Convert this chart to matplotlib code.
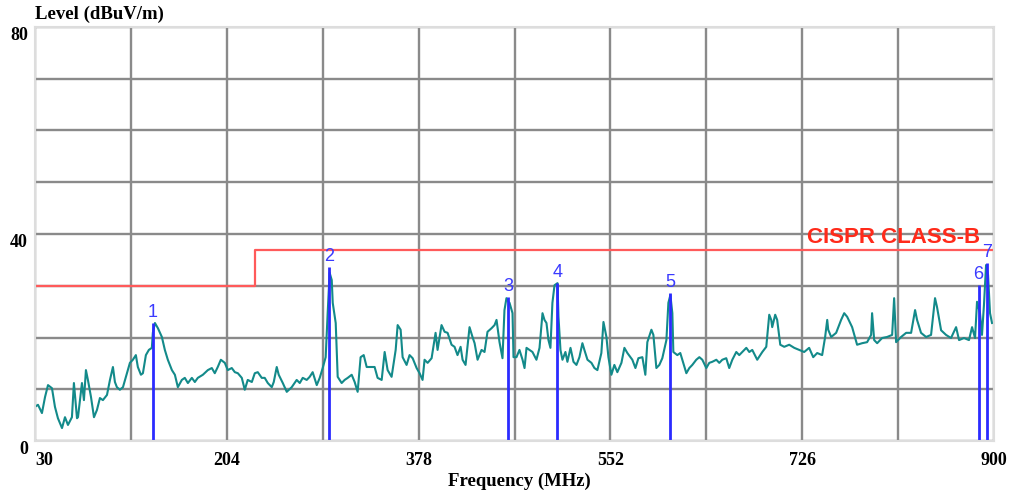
import matplotlib
matplotlib.use("Agg")
import matplotlib.pyplot as plt

# measured trace (MHz, dBuV/m)
freq_mhz = [30.0, 32.7, 36.3, 39.1, 41.8, 45.4, 48.1, 50.8, 54.5, 57.2, 59.9, 63.5, 65.3, 68.1, 69.0,
            72.6, 74.4, 76.2, 78.0, 80.8, 83.5, 86.2, 88.9, 91.6, 95.3, 98.0, 100.7, 102.5, 104.3, 107.0,
            109.8, 113.4, 116.1, 118.8, 121.5, 123.3, 126.1, 127.9, 130.6, 133.3, 136.0, 136.9, 138.8, 141.5,
            145.1, 147.8, 150.5, 154.2, 156.9, 159.6, 163.2, 165.9, 168.7, 172.3, 175.0, 177.7, 182.3, 186.8,
            190.4, 193.1, 195.8, 198.6, 202.2, 204.9, 208.5, 211.3, 214.0, 217.6, 220.3, 223.0, 226.7, 229.4,
            232.1, 235.7, 238.4, 241.2, 244.8, 246.6, 249.3, 251.1, 254.8, 258.4, 262.9, 267.4, 270.2, 272.9,
            276.5, 279.2, 281.9, 285.6, 288.3, 291.0, 293.7, 295.5, 297.3, 299.2, 300.1, 302.8, 304.6, 308.2,
            310.9, 313.7, 317.3, 320.0, 322.7, 325.4, 328.2, 330.9, 333.6, 338.1, 340.8, 344.5, 347.2, 349.9,
            353.5, 357.2, 359.0, 361.7, 363.5, 367.1, 369.8, 372.6, 376.2, 378.9, 381.6, 383.4, 386.2, 389.8,
            393.4, 395.2, 398.8, 401.6, 404.3, 407.9, 410.6, 413.3, 416.1, 417.9, 420.6, 424.2, 426.9, 428.8,
            431.5, 435.1, 437.8, 440.5, 444.2, 446.9, 448.7, 451.4, 454.1, 455.9, 457.7, 459.6, 460.5, 463.2,
            464.1, 466.8, 469.5, 472.3, 474.1, 475.9, 478.6, 481.3, 484.9, 487.7, 490.4, 492.2, 494.0, 495.8,
            497.6, 499.4, 501.3, 504.0, 504.9, 506.7, 508.5, 511.2, 513.0, 515.8, 518.5, 521.2, 523.9, 526.6,
            528.4, 531.2, 534.8, 537.5, 540.2, 543.8, 545.7, 548.4, 550.2, 552.9, 555.6, 558.3, 562.0, 564.7,
            567.4, 571.9, 574.7, 577.4, 581.0, 583.7, 585.5, 589.2, 591.0, 593.7, 596.4, 599.1, 602.8, 604.6,
            606.4, 608.2, 609.1, 612.7, 615.4, 617.2, 620.9, 623.6, 626.3, 629.9, 632.7, 635.4, 639.0, 641.7,
            644.4, 648.1, 650.8, 653.5, 657.1, 659.8, 662.6, 666.2, 668.9, 671.6, 675.3, 678.0, 680.7, 685.2,
            689.8, 693.4, 696.1, 697.9, 698.8, 701.5, 703.3, 706.1, 709.7, 714.2, 718.8, 723.3, 727.8, 732.3,
            736.0, 739.6, 744.1, 746.8, 748.7, 749.6, 752.3, 756.8, 761.3, 764.1, 766.8, 771.3, 775.8, 780.4,
            784.9, 788.5, 789.4, 791.3, 794.0, 798.5, 803.0, 807.6, 809.4, 811.2, 815.7, 820.3, 824.8, 828.4,
            830.2, 833.8, 838.4, 842.9, 846.5, 848.3, 852.0, 856.5, 861.0, 865.6, 868.3, 872.8, 877.3, 880.1,
            882.8, 884.6, 887.3, 889.1, 890.9, 892.8, 894.6, 896.4, 898.2]
level_dbuv = [6.6, 7.0, 5.4, 8.5, 10.8, 10.2, 6.6, 4.4, 2.5, 4.6, 3.1, 4.6, 11.2, 4.4, 4.6,
              11.2, 7.9, 13.7, 11.8, 8.5, 4.6, 6.0, 8.3, 7.9, 8.9, 11.8, 14.3, 11.4, 10.4, 9.9,
              10.4, 13.1, 15.1, 15.7, 16.6, 14.3, 12.8, 13.1, 16.6, 17.6, 18.0, 20.9, 22.8, 21.8,
              20.1, 17.6, 15.7, 13.7, 12.8, 10.4, 11.8, 12.2, 11.2, 12.2, 11.4, 12.2, 12.8, 13.7,
              14.1, 13.1, 14.3, 15.7, 15.1, 13.7, 14.1, 13.3, 13.1, 12.2, 9.9, 11.8, 11.4, 13.1,
              13.3, 12.2, 12.2, 11.2, 10.4, 11.4, 14.3, 12.8, 11.2, 9.5, 10.4, 11.8, 11.2, 12.2,
              11.8, 12.4, 13.3, 10.8, 12.2, 14.1, 16.2, 24.7, 32.5, 31.1, 26.7, 22.8, 12.4, 11.2,
              11.8, 12.2, 12.8, 11.4, 9.5, 16.2, 16.6, 14.3, 14.3, 14.3, 12.2, 11.8, 17.2, 13.7,
              12.4, 17.6, 22.4, 21.5, 16.2, 14.7, 16.6, 16.0, 14.1, 13.1, 11.8, 15.7, 15.1, 16.0,
              20.9, 17.6, 22.4, 21.1, 20.9, 18.6, 18.2, 16.6, 18.2, 15.7, 14.7, 22.0, 20.1, 18.9,
              15.7, 17.6, 17.2, 21.1, 21.8, 22.4, 23.4, 19.1, 16.0, 25.3, 27.6, 26.9, 26.7, 24.7,
              16.2, 16.2, 17.6, 15.7, 14.1, 18.0, 17.6, 17.2, 15.7, 18.0, 24.7, 23.4, 22.8, 19.5,
              18.0, 26.7, 30.1, 30.5, 24.0, 17.6, 15.7, 17.2, 15.3, 18.0, 15.3, 14.7, 16.2, 18.9,
              17.6, 15.7, 15.1, 14.1, 13.7, 17.0, 23.0, 20.1, 16.2, 12.8, 14.7, 13.3, 15.1, 18.0,
              17.0, 15.7, 14.1, 16.0, 16.2, 12.8, 19.1, 21.5, 20.5, 14.1, 14.7, 16.0, 19.5, 26.7,
              28.2, 24.7, 17.2, 16.6, 17.0, 15.7, 13.1, 14.1, 14.7, 15.7, 16.2, 15.7, 14.1, 15.1,
              15.3, 15.7, 15.1, 15.7, 16.0, 14.1, 15.7, 17.2, 16.6, 17.2, 18.0, 17.2, 17.6, 15.7,
              17.2, 18.2, 24.4, 23.4, 22.0, 24.4, 23.4, 18.6, 18.2, 18.6, 18.0, 17.6, 17.2, 18.0,
              16.2, 17.0, 16.6, 20.1, 23.4, 21.5, 20.1, 20.9, 23.4, 24.7, 24.0, 22.0, 18.6, 18.9,
              19.1, 20.5, 24.7, 19.5, 18.9, 19.9, 20.1, 20.5, 27.6, 19.1, 20.1, 20.9, 20.9, 25.3,
              23.4, 20.9, 20.1, 20.5, 27.6, 25.9, 21.4, 20.5, 19.9, 22.0, 19.5, 19.9, 19.5, 22.0,
              19.9, 26.9, 24.7, 20.5, 26.3, 34.0, 32.1, 24.7, 22.8]

# CISPR class B limit (step at 230 MHz)
limit_freq = [30, 230, 900]
limit_level = [30, 37, 37]

# peak markers
marker_freq = [137.0, 297.0, 459.0, 504.0, 606.5, 886.0, 894.0]
marker_level = [22.8, 33.6, 27.8, 30.5, 28.6, 30.1, 34.4]

x_labels = [30, 204, 378, 552, 726, 900]
x_grid = [117, 291, 465, 639, 813]
y_labels = [0, 40, 80]
y_grid = [10, 20, 30, 50, 60, 70]

serif = ["Liberation Serif", "DejaVu Serif"]
sans = ["Liberation Sans", "DejaVu Sans"]

fig = plt.figure(figsize=(10.19, 4.96), dpi=100)
ax = fig.add_axes([35 / 1019, 1 - 441 / 496, 959 / 1019, 414 / 496])

ax.set_xlim(30, 900)
ax.set_ylim(0, 80)
ax.set_xticks(x_labels)
ax.set_xticks(x_grid, minor=True)
ax.set_yticks(y_labels)
ax.set_yticks(y_grid, minor=True)
ax.grid(True, which="both", color="#8a8a8a", linewidth=1.7)
ax.set_axisbelow(True)
ax.tick_params(which="both", length=0)
ax.tick_params(axis="x", pad=8)
ax.tick_params(axis="y", pad=5)
for s in ax.spines.values():
    s.set_color("#dddddd")
    s.set_linewidth(1.5)

for t in ax.get_xticklabels() + ax.get_yticklabels():
    t.set_family(serif)
    t.set_fontweight("bold")
    t.set_fontsize(13)
for t in ax.get_yticklabels():
    t.set_va("top")
ax.get_xticklabels()[0].set_ha("left")

ax.step(limit_freq, limit_level, where="post", color="#ff5a5a", linewidth=1.6)
ax.text(887, 37.3, "CISPR CLASS-B", color="#ff2a1a", fontsize=16, fontweight="bold",
        family=sans, ha="right", va="bottom")

ax.plot(freq_mhz, level_dbuv, color="#138a8a", linewidth=1.5)

ax.vlines(marker_freq, 0, marker_level, color="#2b2bff", linewidth=2)
for i, (f, lv) in enumerate(zip(marker_freq, marker_level)):
    ax.text(f, lv + 0.4, str(i + 1), color="#3a3aff", fontsize=13, ha="center", va="bottom",
            family=sans)

fig.text(35 / 1019, 1 - 14 / 496, "Level (dBuV/m)", family=serif, fontweight="bold",
         fontsize=13.5, ha="left", va="center")
fig.text(519 / 1019, 1 - 481 / 496, "Frequency (MHz)", family=serif, fontweight="bold",
         fontsize=13.5, ha="center", va="center")

fig.savefig("out.png", dpi=100)
